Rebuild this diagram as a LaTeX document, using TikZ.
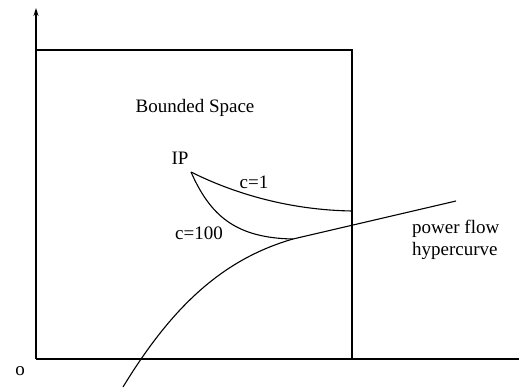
\documentclass[tikz,border=0pt]{standalone}
\usepackage{fontspec}
\setmainfont{Liberation Serif}
\usetikzlibrary{arrows.meta}
\begin{document}
\begin{tikzpicture}[x=1pt,y=-1pt,
  ln/.style={line width=1.1pt,black},
  lbl/.style={font=\fontsize{19}{22}\selectfont,inner sep=0pt}]
\useasboundingbox (0,0) rectangle (519,388);
% axes
\coordinate (O) at (36,359);
\coordinate (Ytop) at (36,8);
\coordinate (Xend) at (519,359);
\draw[ln,-{Stealth[length=8pt,width=5pt]}] (O) -- (Ytop);
\draw[ln] (O) -- (Xend);
% bounded space box
\coordinate (BL) at (36,50);
\coordinate (BR) at (352,50);
\coordinate (BB) at (352,359);
\draw[ln] (BL) -- (BR) -- (BB);
% curves
\coordinate (H0) at (123,387);
\coordinate (T) at (293,239);
\coordinate (H1) at (456,201);
\coordinate (IPv) at (191,172);
\coordinate (C1e) at (352,211);
\draw[ln] (H0) .. controls (170,310) and (220,260) .. (T) -- (H1);
\draw[ln] (IPv) .. controls (235,194) and (290,210) .. (C1e);
\draw[ln] (IPv) .. controls (210,215) and (235,238) .. (T);
% labels
\node[lbl] (bs) at (195,108) {Bounded Space};
\node[lbl] (ip) at (180,158) {IP};
\node[lbl] (c1) at (254,182) {c=1};
\node[lbl] (c100) at (199,233) {c=100};
\node[lbl,anchor=west,align=left] (pf) at (412,240) {power flow\\hypercurve};
\node[lbl] (o) at (20,371) {o};
\end{tikzpicture}
\end{document}
